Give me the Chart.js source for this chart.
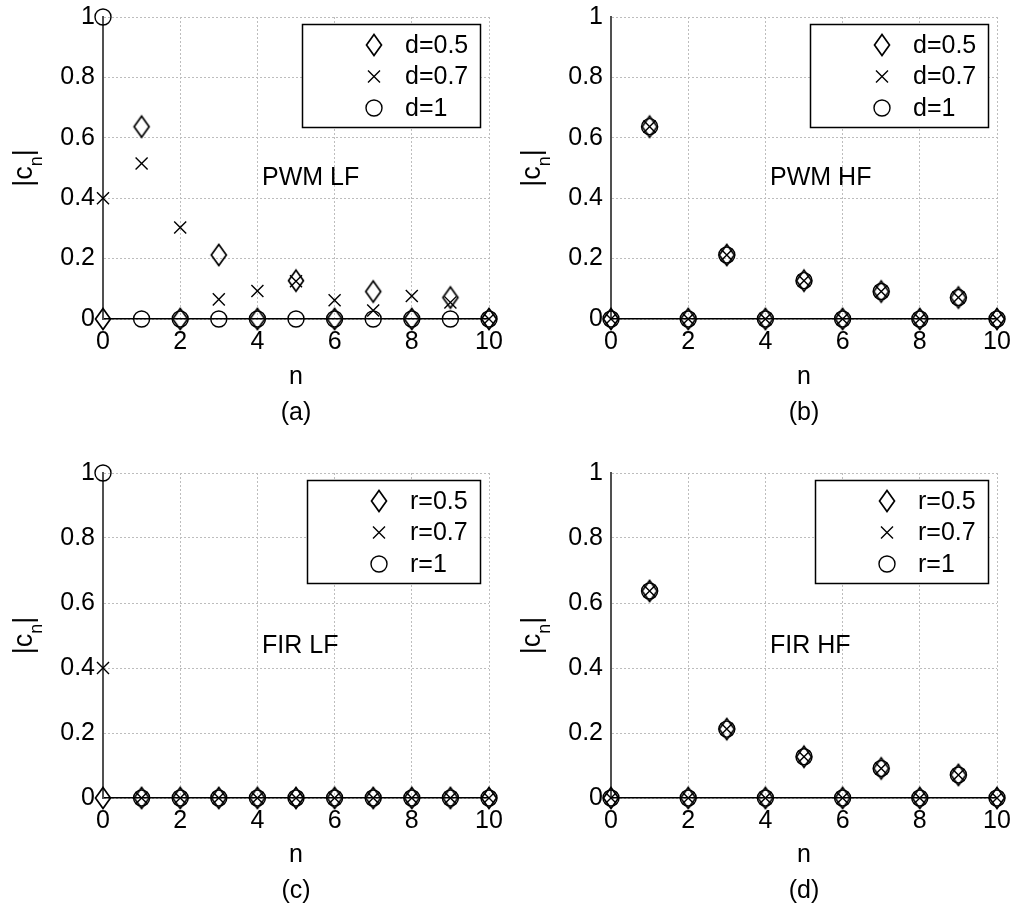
<!DOCTYPE html>
<html>
<head>
<meta charset="utf-8">
<script src="https://cdn.jsdelivr.net/npm/chart.js@4.4.1/dist/chart.umd.min.js"></script>
<style>
  html, body { margin: 0; padding: 0; background: #fff; overflow: hidden; }
  #page { position: relative; width: 1016px; height: 911px; overflow: hidden; }
  .panel { position: absolute; width: 511px; height: 455px; }
</style>
</head>
<body>
<div id="page">
  <div class="panel" style="left:0;top:0"><canvas id="chartA" width="511" height="455"></canvas></div>
  <div class="panel" style="left:508px;top:0"><canvas id="chartB" width="511" height="455"></canvas></div>
  <div class="panel" style="left:0;top:456px"><canvas id="chartC" width="511" height="455"></canvas></div>
  <div class="panel" style="left:508px;top:456px"><canvas id="chartD" width="511" height="455"></canvas></div>
</div>
<script>
// harmonic index and axis ticks
var N_VALUES = [0, 1, 2, 3, 4, 5, 6, 7, 8, 9, 10];
var X_TICKS = [0, 2, 4, 6, 8, 10];
var Y_TICKS = [0, 0.2, 0.4, 0.6, 0.8, 1];

// (a) PWM LF
var PWM_LF_D05 = [0, 0.637, 0, 0.212, 0, 0.127, 0, 0.091, 0, 0.071, 0];
var PWM_LF_D07 = [0.4, 0.515, 0.303, 0.065, 0.093, 0.125, 0.062, 0.028, 0.076, 0.055, 0];
var PWM_LF_D1 = [1, 0, 0, 0, 0, 0, 0, 0, 0, 0, 0];

// (b) PWM HF
var PWM_HF_D05 = [0, 0.637, 0, 0.212, 0, 0.127, 0, 0.091, 0, 0.071, 0];
var PWM_HF_D07 = [0, 0.637, 0, 0.212, 0, 0.127, 0, 0.091, 0, 0.071, 0];
var PWM_HF_D1 = [0, 0.637, 0, 0.212, 0, 0.127, 0, 0.091, 0, 0.071, 0];

// (c) FIR LF
var FIR_LF_R05 = [0, 0, 0, 0, 0, 0, 0, 0, 0, 0, 0];
var FIR_LF_R07 = [0.4, 0, 0, 0, 0, 0, 0, 0, 0, 0, 0];
var FIR_LF_R1 = [1, 0, 0, 0, 0, 0, 0, 0, 0, 0, 0];

// (d) FIR HF
var FIR_HF_R05 = [0, 0.637, 0, 0.212, 0, 0.127, 0, 0.091, 0, 0.071, 0];
var FIR_HF_R07 = [0, 0.637, 0, 0.212, 0, 0.127, 0, 0.091, 0, 0.071, 0];
var FIR_HF_R1 = [0, 0.637, 0, 0.212, 0, 0.127, 0, 0.091, 0, 0.071, 0];

var D_LABELS = ['d=0.5', 'd=0.7', 'd=1'];
var R_LABELS = ['r=0.5', 'r=0.7', 'r=1'];

var FONT_FAMILY = "'Liberation Sans', Arial, Helvetica, sans-serif";
var FONT = '25px ' + FONT_FAMILY;

// tall open diamond used as marker
function makeDiamond() {
  var c = document.createElement('canvas');
  c.width = 20; c.height = 26;
  var g = c.getContext('2d');
  g.strokeStyle = '#000';
  g.lineWidth = 1.7;
  g.beginPath();
  g.moveTo(10, 2.5);
  g.lineTo(17.5, 13);
  g.lineTo(10, 23.5);
  g.lineTo(2.5, 13);
  g.closePath();
  g.stroke();
  return c;
}
var DIAMOND = makeDiamond();

function drawMarker(ctx, style, x, y) {
  ctx.save();
  ctx.strokeStyle = '#000';
  ctx.lineWidth = 1.4;
  if (style === 'circle') {
    ctx.beginPath();
    ctx.arc(x, y, 8, 0, 2 * Math.PI);
    ctx.stroke();
  } else if (style === 'crossRot') {
    var h = 6;
    ctx.beginPath();
    ctx.moveTo(x - h, y - h); ctx.lineTo(x + h, y + h);
    ctx.moveTo(x - h, y + h); ctx.lineTo(x + h, y - h);
    ctx.stroke();
  } else {
    ctx.drawImage(style, Math.round(x - style.width / 2), Math.round(y - style.height / 2));
  }
  ctx.restore();
}

// legend box, annotation and |c_n| label
var panelDecor = {
  id: 'panelDecor',
  afterDraw: function(chart, args, opts) {
    var ctx = chart.ctx;
    var area = chart.chartArea;
    var xs = chart.scales.x, ys = chart.scales.y;
    ctx.save();
    ctx.font = FONT;
    ctx.fillStyle = '#000';
    ctx.textAlign = 'left';
    ctx.textBaseline = 'middle';
    ctx.fillText(opts.note, xs.getPixelForValue(4.12), ys.getPixelForValue(0.466));

    var textW = 0;
    opts.labels.forEach(function(l) { textW = Math.max(textW, ctx.measureText(l).width); });
    var boxW = Math.round(72 + 31 + textW + 12), boxH = 103;
    var boxR = Math.round(area.right - 9), boxL = boxR - boxW, boxT = Math.round(area.top + 7);
    ctx.fillStyle = '#fff';
    ctx.fillRect(boxL, boxT, boxW, boxH);
    ctx.strokeStyle = '#000';
    ctx.lineWidth = 1.5;
    ctx.strokeRect(boxL + 0.5, boxT + 0.5, boxW, boxH);
    ctx.fillStyle = '#000';
    chart.data.datasets.forEach(function(ds, i) {
      var cy = boxT + 21 + i * 31.5;
      drawMarker(ctx, ds.pointStyle, boxL + 72, cy);
      ctx.fillText(ds.label, boxL + 103, cy + 1);
    });

    // y axis label |c_n|
    ctx.translate(32, (area.top + area.bottom) / 2);
    ctx.rotate(-Math.PI / 2);
    ctx.textBaseline = 'alphabetic';
    var fMain = '27px ' + FONT_FAMILY;
    var fSub = '18px ' + FONT_FAMILY;
    ctx.font = fMain;
    var w1 = ctx.measureText('|c').width;
    var w3 = ctx.measureText('|').width;
    ctx.font = fSub;
    var w2 = ctx.measureText('n').width;
    var u = -(w1 + w2 + w3) / 2;
    ctx.font = fMain;
    ctx.fillText('|c', u, 0);
    ctx.font = fSub;
    ctx.fillText('n', u + w1, 10);
    ctx.font = fMain;
    ctx.fillText('|', u + w1 + w2, 0);
    ctx.restore();
  }
};

function makeSeries(label, values, style, radius) {
  return {
    label: label,
    data: N_VALUES.map(function(n, i) { return { x: n, y: values[i] }; }),
    pointStyle: style,
    pointRadius: radius,
    pointBorderWidth: 1.4,
    borderColor: '#000',
    backgroundColor: 'rgba(0,0,0,0)',
    showLine: false,
    clip: false
  };
}

function drawPanel(id, series, labels, note, tag, bottom, titlePad) {
  var ctx = document.getElementById(id).getContext('2d');
  return new Chart(ctx, {
    type: 'scatter',
    data: {
      datasets: [
        makeSeries(labels[0], series[0], DIAMOND, 8),
        makeSeries(labels[1], series[1], 'crossRot', 8.5),
        makeSeries(labels[2], series[2], 'circle', 8)
      ]
    },
    plugins: [panelDecor],
    options: {
      responsive: false,
      animation: false,
      events: [],
      layout: { padding: { left: 0, top: 17, right: 22, bottom: 0 } },
      plugins: {
        legend: { display: false },
        tooltip: { enabled: false },
        panelDecor: { note: note, labels: labels }
      },
      scales: {
        x: {
          type: 'linear',
          min: 0,
          max: 10,
          afterBuildTicks: function(scale) {
            scale.ticks = X_TICKS.map(function(v) { return { value: v }; });
          },
          afterFit: function(scale) { scale.height = 455 - bottom; },
          ticks: { color: '#000', padding: 8, maxRotation: 0, font: { family: FONT_FAMILY, size: 25 } },
          grid: { color: '#bdbdbd', lineWidth: 1, drawTicks: false },
          border: { display: true, color: '#000', width: 1.5, dash: [2, 2] },
          title: {
            display: true,
            text: ['n', tag],
            color: '#000',
            padding: { top: 0, bottom: titlePad },
            font: { family: FONT_FAMILY, size: 25, lineHeight: 1.44 }
          }
        },
        y: {
          type: 'linear',
          min: 0,
          max: 1,
          afterBuildTicks: function(scale) {
            scale.ticks = Y_TICKS.map(function(v) { return { value: v }; });
          },
          afterFit: function(scale) { scale.width = 103; },
          ticks: {
            color: '#000',
            padding: 8,
            font: { family: FONT_FAMILY, size: 25, lineHeight: 0.6 },
            callback: function(v) { return String(Math.round(v * 10) / 10); }
          },
          grid: { color: '#bdbdbd', lineWidth: 1, drawTicks: false },
          border: { display: true, color: '#505050', width: 2, dash: [2, 2] }
        }
      }
    }
  });
}

drawPanel('chartA', [PWM_LF_D05, PWM_LF_D07, PWM_LF_D1], D_LABELS, 'PWM LF', '(a)', 319, 24);
drawPanel('chartB', [PWM_HF_D05, PWM_HF_D07, PWM_HF_D1], D_LABELS, 'PWM HF', '(b)', 319, 24);
drawPanel('chartC', [FIR_LF_R05, FIR_LF_R07, FIR_LF_R1], R_LABELS, 'FIR LF', '(c)', 342, 2);
drawPanel('chartD', [FIR_HF_R05, FIR_HF_R07, FIR_HF_R1], R_LABELS, 'FIR HF', '(d)', 342, 2);
</script>
</body>
</html>
